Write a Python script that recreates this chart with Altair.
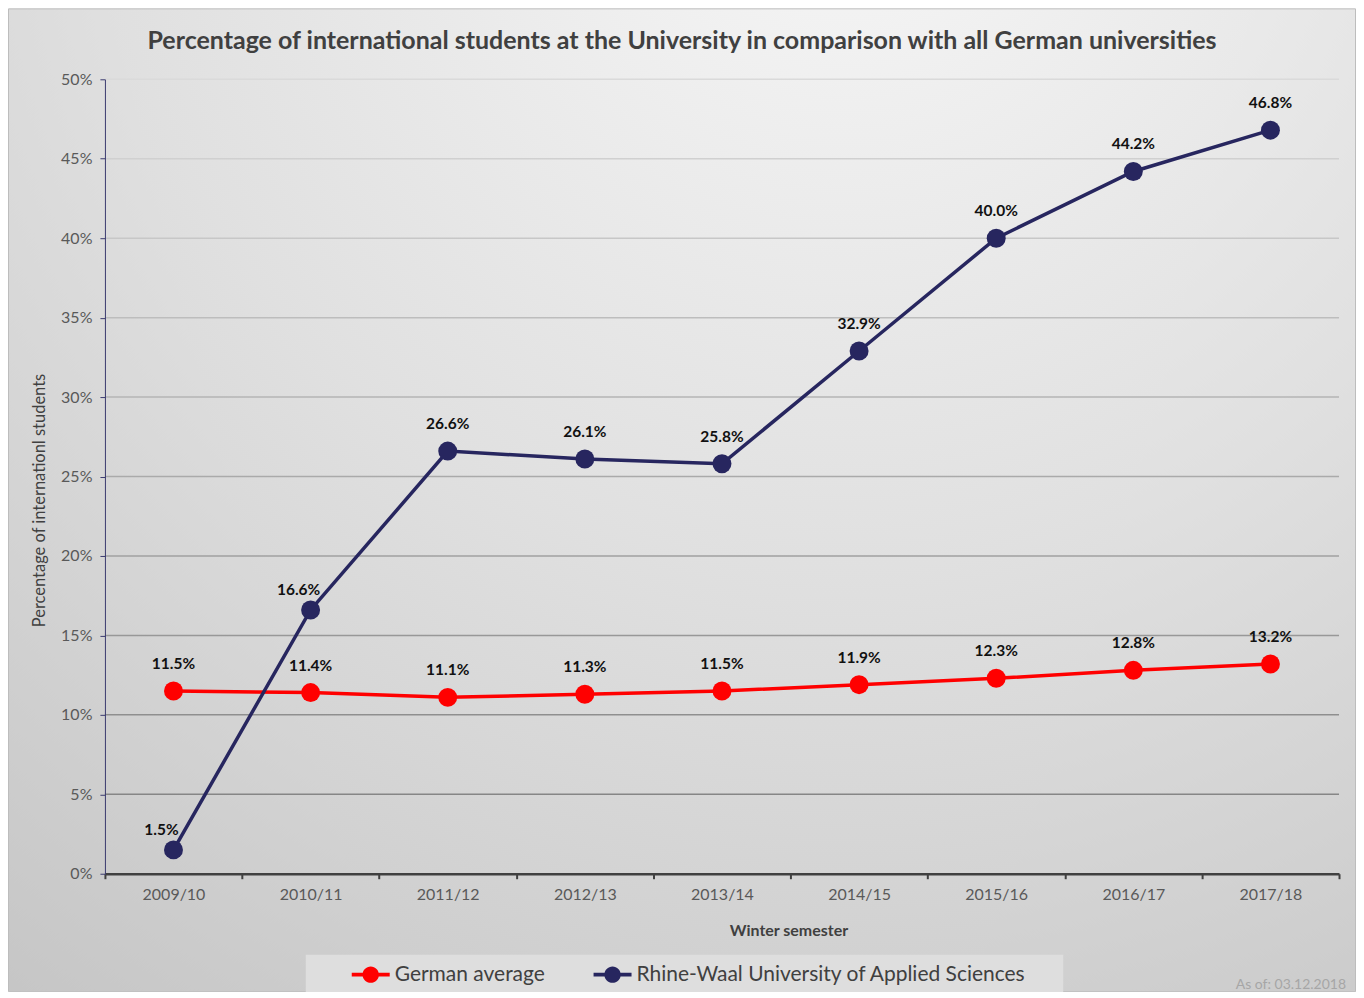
import altair as alt
import pandas as pd

# ---------------- data ----------------
semesters = ["2009/10", "2010/11", "2011/12", "2012/13", "2013/14",
             "2014/15", "2015/16", "2016/17", "2017/18"]
german_avg = [11.5, 11.4, 11.1, 11.3, 11.5, 11.9, 12.3, 12.8, 13.2]
rhine_waal = [1.5, 16.6, 26.6, 26.1, 25.8, 32.9, 40.0, 44.2, 46.8]
series_names = ["German average", "Rhine-Waal University of Applied Sciences"]
series_colors = ["#ff0000", "#27265f"]
y_ticks = [0, 5, 10, 15, 20, 25, 30, 35, 40, 45, 50]
grid_values = [5, 10, 15, 20, 25, 30, 35, 40, 45, 50]
title_text = "Percentage of international students at the University in comparison with all German universities"
y_title = "Percentage of internationl students"
x_title = "Winter semester"
note_text = ["As of: 03.12.2018"]

rows = []
for name, vals in zip(series_names, [german_avg, rhine_waal]):
    for s, v in zip(semesters, vals):
        rows.append({"semester": s, "series": name, "value": v, "label": f"{v:.1f}%"})
df = pd.DataFrame(rows)

# ---------------- layout ----------------
W, H = 1235, 795
PL, PT, PR, PB = 97, 71, 17, 118
FONT = "Lato"

x_enc = alt.X(
    "semester:N", sort=semesters, bandPosition=0.5,
    scale=alt.Scale(type="band", paddingInner=0, paddingOuter=0),
    axis=alt.Axis(title=x_title, tickBand="extent", labelAngle=0, grid=False, zindex=1,
                  domainColor="#404040", domainWidth=2.5, tickColor="#404040", tickWidth=2,
                  tickSize=5, labelFont=FONT, labelFontSize=16, labelColor="#595959",
                  labelPadding=8, titleFont=FONT, titleFontSize=16, titleFontWeight="bold",
                  titleColor="#404040", titlePadding=20, titleX=684, titleAlign="center"),
)
y_enc = alt.Y(
    "value:Q",
    scale=alt.Scale(domain=[0, 50], nice=False),
    axis=alt.Axis(title=y_title, values=y_ticks, labelExpr="datum.value + '%'", grid=False,
                  zindex=1, domainColor="#3a3a6e", domainWidth=1, tickColor="#3a3a6e",
                  tickSize=5, labelFont=FONT, labelFontSize=16, labelColor="#595959",
                  labelPadding=8, titleFont=FONT, titleFontSize=16.5, titleFontWeight="normal",
                  titleColor="#404040", titleAngle=270, titleX=-65, titleY=421,
                  titleAlign="center", titleBaseline="middle"),
)
color_scale = alt.Scale(domain=series_names, range=series_colors)

legend_symbol = ("M-1,-0.1H1V0.1H-1Z "
                 "M-0.43,0A0.43,0.43 0 1,1 0.43,0A0.43,0.43 0 1,1 -0.43,0Z")

bg_gradient = alt.RadialGradient(
    gradient="radial",
    stops=[alt.GradientStop(offset=0, color="#f8f8f8"),
           alt.GradientStop(offset=0.5, color="#e0e0e0"),
           alt.GradientStop(offset=1, color="#c4c4c4")],
    x1=0.62, y1=0, r1=0, x2=0.62, y2=0, r2=1.1,
)

one = pd.DataFrame({"k": [0]})

background = alt.Chart(one).mark_rect(fill=bg_gradient, stroke="#bdbdbd", strokeWidth=1).encode(
    x=alt.value(-PL + 0.5), x2=alt.value(W + PR - 0.5),
    y=alt.value(-PT + 0.5), y2=alt.value(H + PB),
)

legend_box = alt.Chart(one).mark_rect(fill="#dedede").encode(
    x=alt.value(201), x2=alt.value(959), y=alt.value(876), y2=alt.value(916),
)

grid = alt.Chart(pd.DataFrame({"value": grid_values})).mark_rule(strokeWidth=1.5).encode(
    y=y_enc,
    stroke=alt.Stroke("value:Q", scale=alt.Scale(domain=[0, 50], range=["#7d7d7d", "#dadada"]),
                      legend=None),
)

line_layers = [
    alt.Chart(df).transform_filter(alt.datum.series == name)
    .mark_line(strokeWidth=3.5, color=col).encode(x=x_enc, y=y_enc)
    for name, col in zip(series_names, series_colors)
]

points = alt.Chart(df).mark_circle(size=360, opacity=1).encode(
    x=x_enc, y=y_enc,
    color=alt.Color("series:N", scale=color_scale,
                    legend=alt.Legend(title=None, orient="none", legendX=247, legendY=877,
                                      direction="horizontal", symbolType=legend_symbol,
                                      symbolSize=1444, symbolStrokeWidth=0, symbolOpacity=1,
                                      labelFont=FONT, labelFontSize=21, labelColor="#404040",
                                      labelOffset=5, columnPadding=48, padding=0,
                                      labelLimit=600)),
)

special = ("datum.series == 'Rhine-Waal University of Applied Sciences' && "
           "(datum.semester == '2009/10' || datum.semester == '2010/11')")

labels_main = alt.Chart(df).transform_filter("!(" + special + ")").mark_text(
    font=FONT, fontSize=15.5, fontWeight="bold", color="#111111", dy=-27, baseline="middle"
).encode(x=x_enc, y=y_enc, text="label:N")

labels_side = alt.Chart(df).transform_filter(special).mark_text(
    font=FONT, fontSize=15.5, fontWeight="bold", color="#111111", dx=-12, dy=-20, baseline="middle"
).encode(x=x_enc, y=y_enc, text="label:N")

note = alt.Chart(pd.DataFrame({"t": note_text})).mark_text(
    font=FONT, fontSize=14, color="#a6a6a6", align="right", baseline="middle"
).encode(x=alt.value(1242), y=alt.value(906), text="t:N")

chart = alt.layer(
    background, legend_box, grid, *line_layers, points, labels_main, labels_side, note
).properties(
    width=W, height=H,
    padding={"left": PL, "top": PT, "right": PR, "bottom": PB},
    autosize=alt.AutoSizeParams(type="none"),
    title=alt.TitleParams(text=title_text, font=FONT, fontSize=25, fontWeight="bold",
                          color="#404040", anchor="middle", frame="bounds",
                          baseline="alphabetic", offset=-66),
).configure_view(stroke=None)

chart.save("out.html", embed_options={"renderer": "svg", "actions": False})
